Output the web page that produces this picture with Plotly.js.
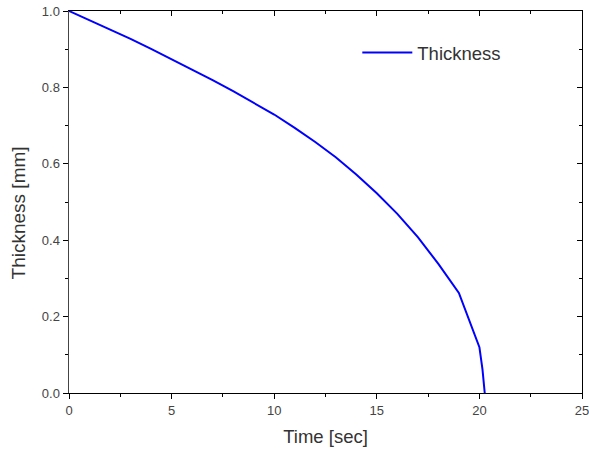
<!DOCTYPE html>
<html>
<head>
<meta charset="utf-8">
<script src="https://cdn.plot.ly/plotly-3.0.1.min.js"></script>
<style>
  html, body { margin: 0; padding: 0; background: #fff; }
  #chart { width: 589px; height: 452px; }
</style>
</head>
<body>
<div id="chart"></div>
<script>
// Film thickness over time
const timeSec = [0, 1, 2, 3, 4, 5, 6, 7, 8, 9, 10, 11, 12, 13, 14, 15, 16, 17, 18, 19, 20, 20.15, 20.26];
const thicknessMm = [1.000, 0.976, 0.952, 0.927, 0.901, 0.874, 0.847, 0.819, 0.790, 0.760, 0.729,
                     0.694, 0.657, 0.617, 0.572, 0.523, 0.469, 0.408, 0.338, 0.262, 0.120, 0.062, 0.0];

const seriesName = 'Thickness';
const xTitle = 'Time [sec]';
const yTitle = 'Thickness [mm]';

const font = 'Arial, "Liberation Sans", sans-serif';

const traces = [
  {
    x: timeSec,
    y: thicknessMm,
    name: seriesName,
    type: 'scatter',
    mode: 'lines',
    line: { color: '#0000ff', width: 2 },
    showlegend: true
  },
  {
    // empty trace so the top/right frame axes get drawn
    x: [], y: [],
    xaxis: 'x2', yaxis: 'y2',
    type: 'scatter', mode: 'lines',
    showlegend: false, hoverinfo: 'skip'
  }
];

const layout = {
  width: 589,
  height: 452,
  margin: { l: 69, r: 7, t: 11, b: 59 },
  paper_bgcolor: '#ffffff',
  plot_bgcolor: '#ffffff',
  font: { family: font, color: '#444444' },
  showlegend: true,
  legend: {
    x: 0.562, y: 0.89, xanchor: 'left', yanchor: 'middle',
    bgcolor: 'rgba(0,0,0,0)',
    font: { family: font, size: 18.5, color: '#333333' },
    itemwidth: 50
  },
  // y-axis title, set a little below the plot's mid-height
  annotations: [
    {
      text: yTitle,
      xref: 'paper', yref: 'paper',
      x: 0, y: 0.47,
      xanchor: 'center', yanchor: 'middle',
      xshift: -51,
      textangle: -90,
      showarrow: false,
      font: { family: font, size: 19, color: '#333333' }
    }
  ],
  xaxis: {
    range: [0, 25],
    dtick: 5,
    tick0: 0,
    showgrid: false,
    zeroline: false,
    showline: true,
    linecolor: '#000000',
    linewidth: 1,
    ticks: 'outside',
    ticklen: 5,
    tickcolor: '#000000',
    ticklabeloverflow: 'allow',
    tickfont: { family: font, size: 13, color: '#444444' },
    minor: { dtick: 2.5, ticks: 'outside', ticklen: 3, tickcolor: '#000000' },
    title: { text: xTitle, font: { family: font, size: 18.5, color: '#333333' }, standoff: 13 }
  },
  yaxis: {
    range: [0, 1],
    dtick: 0.2,
    tick0: 0,
    tickformat: '.1f',
    showgrid: false,
    zeroline: false,
    showline: true,
    linecolor: '#444444',
    linewidth: 1.5,
    ticks: 'outside',
    ticklen: 5,
    tickcolor: '#000000',
    tickfont: { family: font, size: 13, color: '#444444' },
    minor: { dtick: 0.1, ticks: 'outside', ticklen: 3, tickcolor: '#000000' }
  },
  xaxis2: {
    overlaying: 'x',
    anchor: 'y2',
    side: 'top',
    range: [0, 25],
    dtick: 5,
    tick0: 0,
    showgrid: false,
    zeroline: false,
    showline: true,
    linecolor: '#000000',
    linewidth: 1,
    ticks: 'inside',
    ticklen: 5,
    tickcolor: '#000000',
    showticklabels: false,
    minor: { dtick: 2.5, ticks: 'inside', ticklen: 3, tickcolor: '#000000' }
  },
  yaxis2: {
    overlaying: 'y',
    anchor: 'x2',
    side: 'right',
    range: [0, 1],
    dtick: 0.2,
    tick0: 0,
    showgrid: false,
    zeroline: false,
    showline: true,
    linecolor: '#000000',
    linewidth: 1,
    ticks: 'inside',
    ticklen: 5,
    tickcolor: '#000000',
    showticklabels: false,
    minor: { dtick: 0.1, ticks: 'inside', ticklen: 3, tickcolor: '#000000' }
  }
};

Plotly.newPlot('chart', traces, layout, { displayModeBar: false, staticPlot: true });
</script>
</body>
</html>
